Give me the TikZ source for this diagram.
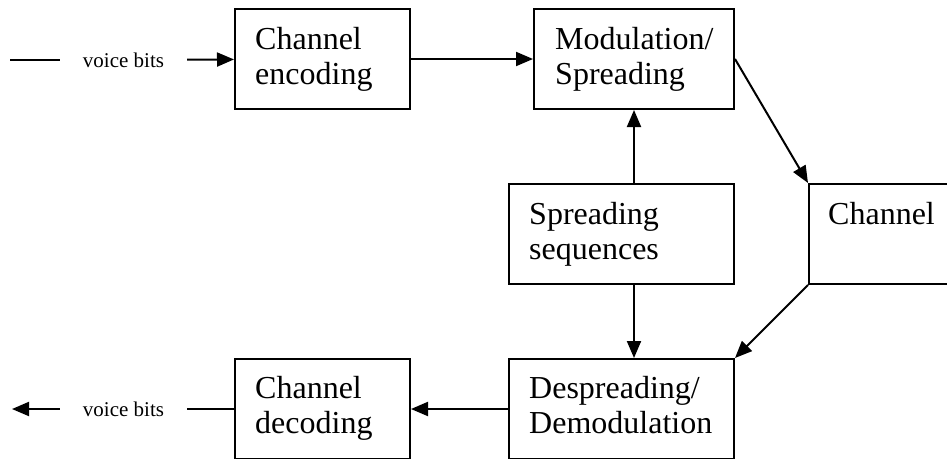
\documentclass[tikz,border=0pt]{standalone}
\usepackage{fontspec}
\setmainfont{Liberation Serif}
\usetikzlibrary{arrows.meta,positioning}

\begin{document}
\begin{tikzpicture}[x=1pt,y=-1pt,
          blk/.style={draw,line width=2pt,minimum height=100pt,inner sep=0pt},
          blktext/.style={anchor=north west,align=left,inner sep=0pt,font=\fontsize{32}{35}\selectfont},
          voice/.style={font=\fontsize{21}{24}\selectfont,inner xsep=23pt,inner ysep=0pt},
          line/.style={line width=2pt},
          arr/.style={line,-{Triangle[length=17pt,width=14pt]}}
        ]
        \useasboundingbox (0,0) rectangle (947,458);
        \clip (0,0) rectangle (947,458);

        %blocks
        \node[blk,minimum width=175pt] (enc) at (322.5,59) {};
        \node[blk,minimum width=200pt] (mod) at (634,59) {};
        \node[blk,minimum width=225pt] (spr) at (621.5,234) {};
        \node[blk,minimum width=175pt] (chan) at (896.5,234) {};
        \node[blk,minimum width=225pt] (desp) at (621.5,409) {};
        \node[blk,minimum width=175pt] (dec) at (322.5,409) {};

        %block texts
        \node[blktext] (enc-t) at ([xshift=21pt,yshift=-19pt]enc.north west) {Channel\\encoding};
        \node[blktext] (mod-t) at ([xshift=22pt,yshift=-19pt]mod.north west) {Modulation/\\Spreading};
        \node[blktext] (spr-t) at ([xshift=21pt,yshift=-19pt]spr.north west) {Spreading\\sequences};
        \node[blktext] (chan-t) at ([xshift=20pt,yshift=-19pt]chan.north west) {Channel};
        \node[blktext] (desp-t) at ([xshift=21pt,yshift=-18pt]desp.north west) {Despreading/\\Demodulation};
        \node[blktext] (dec-t) at ([xshift=21pt,yshift=-18pt]dec.north west) {Channel\\decoding};

        %input and output
        \coordinate (in) at (10,60);
        \node[voice] (vin) at (123.5,60) {voice bits};
        \coordinate (out) at (12,409);
        \node[voice] (vout) at (123.5,409) {voice bits};

        \draw[line] (in) -- (vin);
        \draw[arr] (vin) -- (enc);
        \draw[arr] (enc) -- (mod);
        \draw[arr] (mod.east) -- (chan.north west);
        \draw[arr] (spr.north -| mod.south) -- (mod.south);
        \draw[arr] (spr.south -| mod.south) -- (desp.north -| mod.south);
        \draw[arr] (chan.south west) -- (desp.north east);
        \draw[arr] (desp) -- (dec);
        \draw[line] (dec) -- (vout);
        \draw[arr] (vout) -- (out);
\end{tikzpicture}
\end{document}
